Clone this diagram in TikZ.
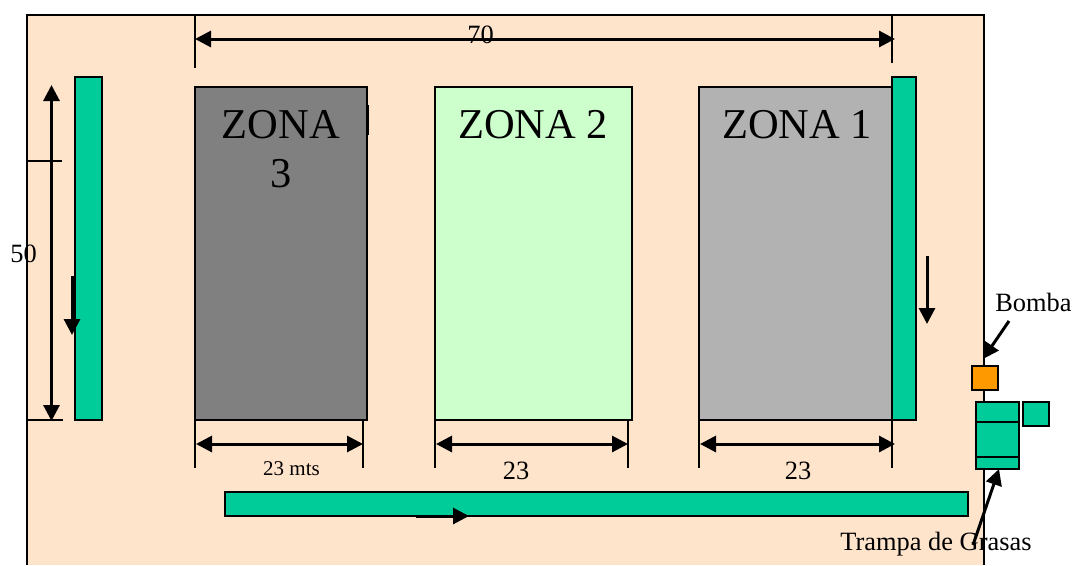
\documentclass[tikz,border=0pt]{standalone}
\usepackage{fontspec}
\setmainfont{Liberation Serif}
\usetikzlibrary{arrows.meta}
\definecolor{peach}{HTML}{FFE4CC}
\definecolor{sea}{HTML}{00CC99}
\definecolor{dgray}{HTML}{808080}
\definecolor{lgray}{HTML}{B2B2B2}
\definecolor{lgreen}{HTML}{CCFFCC}
\definecolor{orng}{HTML}{FF9900}
\tikzset{
  box/.style={draw=black,line width=2pt,inner sep=0pt,outer sep=0pt},
  seabox/.style={box,fill=sea},
  big/.style={inner sep=0pt,anchor=base,align=center,font=\fontsize{42.5}{49}\selectfont},
  lab/.style={inner sep=0pt,anchor=base,font=\fontsize{26.4}{30}\selectfont},
  small/.style={inner sep=0pt,anchor=base,font=\fontsize{21}{24}\selectfont},
  ext/.style={line width=1.5pt},
  dim/.style={line width=3pt,{Triangle[length=16pt,width=16pt]}-{Triangle[length=16pt,width=16pt]}},
  flow/.style={line width=3pt,-{Triangle[length=16pt,width=16pt]}}
}
\begin{document}
\begin{tikzpicture}[x=1pt,y=-1pt]
\useasboundingbox (0,0) rectangle (1075,565);
% ground
\fill[peach] (27,15) rectangle (984,565);
\draw[line width=2pt] (27,565) -- (27,15) -- (984,15) -- (984,565);
% zones
\node[box,fill=dgray,minimum width=172pt,minimum height=333pt] (z3) at (281,253.5) {};
\draw[line width=2pt] (368,105) coordinate (z3n1) -- (368,135) coordinate (z3n2);
\node[box,fill=lgreen,minimum width=197pt,minimum height=333pt] (z2) at (533.5,253.5) {};
\node[box,fill=lgray,minimum width=193pt,minimum height=333pt] (z1) at (795.5,253.5) {};
% green channels
\node[seabox,minimum width=24pt,minimum height=343pt] (gr) at (904,248.5) {};
\node[seabox,minimum width=27pt,minimum height=343pt] (gl) at (88.5,248.5) {};
\node[seabox,minimum width=743pt,minimum height=24pt] (gb) at (596.5,504) {};
% pump and trap
\node[box,fill=orng,minimum width=26pt,minimum height=24pt] (pump) at (985,378) {};
\node[seabox,minimum width=43pt,minimum height=67pt] (trap) at (997.5,435.5) {};
\draw[line width=2pt] (trap.west |- 0,422) coordinate (t1a) -- (trap.east |- 0,422) coordinate (t1b);
\draw[line width=2pt] (trap.west |- 0,457) coordinate (t2a) -- (trap.east |- 0,457) coordinate (t2b);
\node[seabox,minimum width=26pt,minimum height=24pt] (tank) at (1036,414) {};
% zone texts
\node[big] (t3) at (281,187) {ZONA\\3};
\node[big] (t2) at (533,138) {ZONA 2};
\node[big] (t1) at (797,138) {ZONA 1};
% coordinates for dimension lines
\coordinate (top) at (195,15);
\coordinate (topr) at (892,15);
\coordinate (e70a) at (195,68);
\coordinate (e70b) at (892,63);
\coordinate (a70a) at (195,39);
\coordinate (a70b) at (895,39);
\coordinate (l50a) at (27,161);
\coordinate (l50b) at (62,161);
\coordinate (l50c) at (27,420);
\coordinate (l50d) at (63,420);
\coordinate (a50a) at (51.5,85);
\coordinate (a50b) at (51.5,421);
% extension lines
\draw[ext] (top) -- (e70a);
\draw[ext] (topr) -- (e70b);
\draw[ext] (l50a) -- (l50b);
\draw[ext] (l50c) -- (l50d);
\coordinate (d3a) at (195,468); \coordinate (d3b) at (363,468);
\coordinate (d2a) at (435,468); \coordinate (d2b) at (628,468);
\coordinate (d1a) at (699,468); \coordinate (d1b) at (892,468);
\draw[ext] (z3.south west) -- (d3a);
\draw[ext] (363,420) -- (d3b);
\draw[ext] (z2.south west) -- (d2a);
\draw[ext] (628,420) -- (d2b);
\draw[ext] (z1.south west) -- (d1a);
\draw[ext] (z1.south east) -- (d1b);
% dimension arrows
\draw[dim] (a70a) -- (a70b);
\draw[dim] (a50a) -- (a50b);
\coordinate (h3a) at (196,444); \coordinate (h3b) at (363,444);
\coordinate (h2a) at (436,444); \coordinate (h2b) at (628,444);
\coordinate (h1a) at (700,444); \coordinate (h1b) at (895,444);
\draw[dim] (h3a) -- (h3b);
\draw[dim] (h2a) -- (h2b);
\draw[dim] (h1a) -- (h1b);
% flow arrows
\coordinate (f1a) at (72,276); \coordinate (f1b) at (72,335);
\coordinate (f2a) at (927,256); \coordinate (f2b) at (927,324);
\coordinate (f3a) at (416,516); \coordinate (f3b) at (469,516);
\draw[flow] (f1a) -- (f1b);
\draw[flow] (f2a) -- (f2b);
\draw[flow] (f3a) -- (f3b);
% labels
\node[lab] (n70) at (480.5,43) {70};
\node[lab] (n50) at (23.5,262) {50};
\node[small] (n23a) at (291.5,475) {23 mts};
\node[lab] (n23b) at (516,479) {23};
\node[lab] (n23c) at (798,479) {23};
\node[lab] (bomba) at (1033.5,311) {Bomba};
\node[lab] (tg) at (936,550) {Trampa de Grasas};
% callouts
\coordinate (bs) at (1009,321);
\coordinate (be) at (983,359);
\coordinate (ts) at (973,545);
\coordinate (te) at (999,469);
\draw[flow] (bs) -- (be);
\draw[flow] (ts) -- (te);
\end{tikzpicture}
\end{document}
